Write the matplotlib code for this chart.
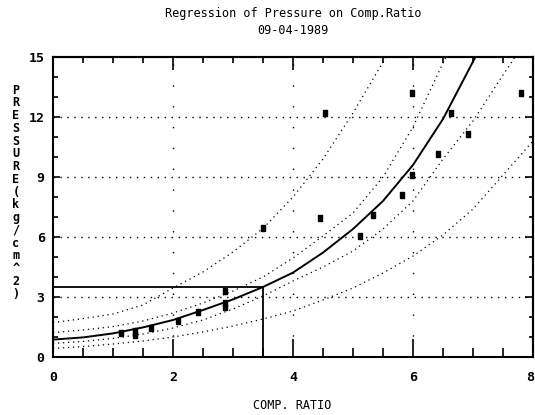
#!/usr/bin/env python3
import matplotlib
matplotlib.use('agg')
import matplotlib.pyplot as plt
from matplotlib.ticker import MultipleLocator, FuncFormatter

# observed points (comp. ratio, pressure)
compRatio = [1.14, 1.36, 1.36, 1.63, 2.09, 2.41, 2.87, 2.87, 2.87, 3.50,
             4.45, 4.54, 5.12, 5.33, 5.82, 5.99, 5.98, 6.41, 6.64, 6.91, 7.80]
pressure = [1.20, 1.10, 1.32, 1.43, 1.80, 2.27, 2.50, 2.70, 3.30, 6.43,
            6.93, 12.20, 6.05, 7.08, 8.10, 9.10, 13.20, 10.15, 12.20, 11.15, 13.22]

# regression curve
fitX = [0.0, 0.5, 1.0, 1.5, 2.0, 2.5, 3.0, 3.5, 4.0, 4.5, 5.0, 5.5, 6.0, 6.5, 7.04]
fitY = [0.87, 0.98, 1.18, 1.48, 1.85, 2.35, 2.88, 3.50, 4.22, 5.22, 6.40, 7.80, 9.60, 11.90, 15.0]

# inner band (mean)
innerUpX = [0.0, 0.5, 1.0, 1.5, 2.0, 2.5, 3.0, 3.5, 4.0, 4.5, 5.0, 5.5, 6.0, 6.5, 6.55]
innerUpY = [1.22, 1.35, 1.52, 1.80, 2.20, 2.70, 3.30, 4.00, 4.95, 6.05, 7.20, 9.00, 11.50, 14.70, 15.0]
innerLoX = [0.0, 0.5, 1.0, 1.5, 2.0, 2.5, 3.0, 3.5, 4.0, 4.5, 5.0, 5.5, 6.0, 6.5, 7.0, 7.5, 7.7]
innerLoY = [0.68, 0.78, 0.93, 1.15, 1.45, 1.85, 2.40, 3.05, 3.80, 4.50, 5.30, 6.40, 7.80, 9.90, 11.80, 14.10, 15.0]

# outer band (prediction)
outerUpX = [0.0, 0.5, 1.0, 1.5, 2.0, 2.5, 3.0, 3.5, 4.0, 4.5, 5.0, 5.55]
outerUpY = [1.72, 1.92, 2.15, 2.60, 3.45, 4.25, 5.25, 6.43, 8.00, 9.90, 12.20, 15.0]
outerLoX = [0.0, 0.5, 1.0, 1.5, 2.0, 2.5, 3.0, 3.5, 4.0, 4.5, 5.0, 5.5, 6.0, 6.5, 7.0, 7.5, 8.0]
outerLoY = [0.43, 0.52, 0.65, 0.80, 1.00, 1.25, 1.55, 1.90, 2.30, 2.85, 3.45, 4.20, 5.05, 6.10, 7.40, 9.10, 10.80]

refX = 3.5
refY = 3.5

xMax = 8
yMax = 15

title1 = 'Regression of Pressure on Comp.Ratio'
title2 = '09-04-1989'
xLabel = 'COMP. RATIO'
yLabel = 'PRESSURE(kg/cm^2)'

mono = 'DejaVu Sans Mono'

fig = plt.figure(figsize=(5.35, 4.15), dpi=100)
ax = fig.add_axes([53/535, 58/415, 480/535, 300/415])
ax.set_xlim(0, xMax)
ax.set_ylim(0, yMax)

# grid
for gy in [3, 6, 9, 12]:
    ax.axhline(gy, color='black', lw=1.0, ls=(0, (1, 4)))
for gx in [2, 4, 6]:
    ax.axvline(gx, color='black', lw=1.0, ls=(0, (1, 14)))

dotted = dict(color='black', lw=0.9, ls=(0, (1, 3)))
ax.plot(outerUpX, outerUpY, **dotted)
ax.plot(outerLoX, outerLoY, **dotted)
ax.plot(innerUpX, innerUpY, **dotted)
ax.plot(innerLoX, innerLoY, **dotted)
ax.plot(fitX, fitY, color='black', lw=1.4)

ax.plot([0, refX], [refY, refY], color='black', lw=1.3)
ax.plot([refX, refX], [0, refY], color='black', lw=1.3)

# small upright block, like the printer's dot
block = [(-0.6, -1), (0.6, -1), (0.6, 1), (-0.6, 1), (-0.6, -1)]
ax.plot(compRatio, pressure, ls='none', marker=block, ms=5, color='black')

for sp in ax.spines.values():
    sp.set_linewidth(1.5)

ax.xaxis.set_major_locator(MultipleLocator(2))
ax.xaxis.set_minor_locator(MultipleLocator(0.5))
ax.yaxis.set_major_locator(MultipleLocator(3))
ax.yaxis.set_minor_locator(MultipleLocator(1))
# the last x label is drawn separately so it is not cut at the figure edge
ax.xaxis.set_major_formatter(FuncFormatter(lambda v, p: '' if v >= xMax else '%d' % v))
ax.tick_params(axis='x', which='major', direction='in', length=13, width=1.2, pad=10)
ax.tick_params(axis='x', which='minor', direction='in', length=6.5, width=1.2)
ax.tick_params(axis='y', which='major', direction='in', length=5, width=1.2, pad=6)
ax.tick_params(axis='y', which='minor', direction='in', length=3.5, width=1.2)
tickFont = dict(family=mono, weight='bold', size=9.5)
for lab in ax.get_xticklabels() + ax.get_yticklabels():
    lab.set_fontfamily(mono)
    lab.set_fontweight('bold')
    lab.set_fontsize(9.5)
ax.annotate('%d' % xMax, xy=(xMax, 0), xycoords='data', xytext=(1, -20),
            textcoords='offset pixels', ha='right', va='center', annotation_clip=False,
            **tickFont)

top = ax.secondary_xaxis('top')
top.xaxis.set_major_locator(MultipleLocator(2))
top.xaxis.set_minor_locator(MultipleLocator(0.5))
top.tick_params(which='major', direction='in', length=9, width=1.2, labeltop=False)
top.tick_params(which='minor', direction='in', length=4.5, width=1.2)
top.spines['top'].set_linewidth(1.5)

right = ax.secondary_yaxis('right')
right.yaxis.set_major_locator(MultipleLocator(3))
right.yaxis.set_minor_locator(MultipleLocator(1))
right.tick_params(which='major', direction='in', length=6, width=1.2, labelright=False)
right.tick_params(which='minor', direction='in', length=3, width=1.2)
right.spines['right'].set_linewidth(1.5)

fig.text(293/535, 1 - 13/415, title1, ha='center', va='center', family=mono, fontsize=8.5)
fig.text(293/535, 1 - 31/415, title2, ha='center', va='center', family=mono, fontsize=8.5)
fig.text(292/535, 1 - 405/415, xLabel, ha='center', va='center', family=mono, fontsize=8.5)

step = 12.75
for i, ch in enumerate(yLabel):
    fig.text(16/535, 1 - (90 + i*step)/415, ch, ha='center', va='center',
             family=mono, fontsize=8.5, fontweight='bold')

fig.savefig('out.png', dpi=100)
